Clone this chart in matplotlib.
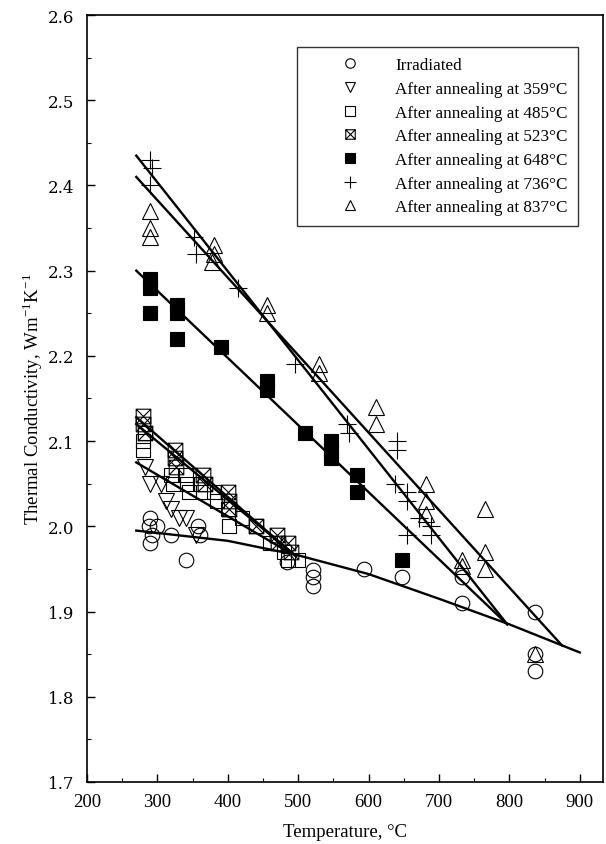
import numpy as np
import matplotlib
matplotlib.use("Agg")
import matplotlib.pyplot as plt
from matplotlib.path import Path
from matplotlib.lines import Line2D

plt.rcParams['font.family'] = ['Liberation Serif', 'DejaVu Serif']
plt.rcParams['mathtext.fontset'] = 'stix'

# --- data ---
irr_x = [288, 290, 292, 290, 300, 320, 340, 358, 360, 484, 521, 521, 521, 593, 647, 733, 733, 837, 837, 837]
irr_y = [2.00, 2.01, 1.99, 1.98, 2.00, 1.99, 1.96, 2.00, 1.99, 1.958, 1.949, 1.94, 1.93, 1.95, 1.94, 1.94, 1.91, 1.90, 1.85, 1.83]

a359_x = [283, 290, 305, 312, 320, 330, 340, 355]
a359_y = [2.07, 2.05, 2.05, 2.03, 2.02, 2.01, 2.01, 1.99]

a485_x = [280, 280, 282, 320, 322, 340, 342, 345, 360, 365, 380, 385, 400, 402, 420, 440, 460, 480, 485, 500]
a485_y = [2.10, 2.09, 2.11, 2.06, 2.05, 2.06, 2.05, 2.04, 2.05, 2.04, 2.04, 2.03, 2.02, 2.00, 2.01, 2.00, 1.98, 1.97, 1.96, 1.96]

a523_x = [280, 280, 282, 325, 325, 327, 365, 367, 400, 402, 402, 440, 470, 472, 485, 490]
a523_y = [2.13, 2.12, 2.11, 2.09, 2.08, 2.07, 2.06, 2.05, 2.04, 2.03, 2.02, 2.00, 1.99, 1.98, 1.98, 1.97]

a648_x = [290, 290, 290, 328, 328, 328, 390, 455, 455, 510, 547, 547, 547, 584, 584, 647]
a648_y = [2.29, 2.28, 2.25, 2.26, 2.25, 2.22, 2.21, 2.17, 2.16, 2.11, 2.10, 2.09, 2.08, 2.06, 2.04, 1.96]

a736_x = [290, 292, 290, 352, 355, 415, 495, 570, 572, 640, 640, 637, 655, 655, 672, 689, 689, 655]
a736_y = [2.43, 2.42, 2.40, 2.34, 2.32, 2.28, 2.19, 2.12, 2.11, 2.10, 2.09, 2.05, 2.04, 2.03, 2.01, 2.00, 1.99, 1.99]

a837_x = [290, 290, 290, 380, 380, 378, 455, 455, 530, 530, 611, 611, 682, 682, 682, 732, 732, 765, 765, 765, 837]
a837_y = [2.37, 2.35, 2.34, 2.33, 2.32, 2.31, 2.26, 2.25, 2.19, 2.18, 2.14, 2.12, 2.05, 2.03, 2.015, 1.96, 1.953, 2.02, 1.97, 1.95, 1.85]

labels = ['Irradiated', 'After annealing at 359°C', 'After annealing at 485°C',
          'After annealing at 523°C', 'After annealing at 648°C',
          'After annealing at 736°C', 'After annealing at 837°C']

# fitted lines (end points)
fit_irr_x = [270, 400, 500, 600, 700, 800, 900]
fit_irr_y = [1.995, 1.983, 1.966, 1.944, 1.915, 1.885, 1.852]
fit_lines = [
    ([270, 490], [2.075, 1.968]),   # 359
    ([270, 497], [2.12, 1.965]),    # 485
    ([270, 495], [2.128, 1.966]),   # 523
    ([270, 797], [2.30, 1.885]),    # 648
    ([270, 797], [2.435, 1.885]),   # 736
    ([270, 875], [2.41, 1.86]),     # 837
]

# square with an X inside
xsq = Path([(-1, -1), (1, -1), (1, 1), (-1, 1), (-1, -1), (1, 1), (-1, 1), (1, -1)],
           [Path.MOVETO, Path.LINETO, Path.LINETO, Path.LINETO, Path.LINETO,
            Path.LINETO, Path.MOVETO, Path.LINETO])

fig = plt.figure(figsize=(6.06, 8.45), dpi=100)
ax = fig.add_axes([87 / 606, 62 / 845, (603 - 87) / 606, (829 - 62) / 845])

mew = 0.8
styles = [
    dict(marker='o', ms=10.5, mfc='none'),
    dict(marker='v', ms=11, mfc='none'),
    dict(marker='s', ms=10.5, mfc='none'),
    dict(marker=xsq, ms=10.5, mfc='none'),
    dict(marker='s', ms=10.5, mfc='black'),
    dict(marker='+', ms=13, mfc='none'),
    dict(marker='^', ms=11, mfc='none'),
]
series = [(irr_x, irr_y), (a359_x, a359_y), (a485_x, a485_y), (a523_x, a523_y),
          (a648_x, a648_y), (a736_x, a736_y), (a837_x, a837_y)]

handles = []
for (xs, ys), st, lab in zip(series, styles, labels):
    ax.plot(xs, ys, ls='none', mec='black', mew=mew, color='black', **st)
    handles.append(Line2D([], [], ls='none', mec='black', mew=mew, color='black',
                          label=lab, **st))

ax.plot(fit_irr_x, fit_irr_y, color='black', lw=1.7)
for fx, fy in fit_lines:
    ax.plot(fx, fy, color='black', lw=1.7)

ax.set_xlim(200, 933)
ax.set_ylim(1.7, 2.6)
ax.set_xticks(np.arange(200, 901, 100))
ax.set_xticks(np.arange(250, 930, 100), minor=True)
ax.set_yticks(np.arange(1.7, 2.61, 0.1))
ax.set_yticks(np.arange(1.75, 2.6, 0.1), minor=True)
ax.set_yticklabels(['%.1f' % v for v in np.arange(1.7, 2.61, 0.1)],
                   family='DejaVu Serif', fontsize=12)
ax.tick_params(which='both', direction='in', top=False, right=False)
ax.tick_params(axis='x', labelsize=13.5, pad=8)
ax.tick_params(axis='y', pad=9)
ax.tick_params(which='major', length=6, width=1)
ax.tick_params(which='minor', length=3, width=0.8)
for s in ax.spines.values():
    s.set_linewidth(1.2)

ax.set_xlabel('Temperature, °C', fontsize=13.5, labelpad=9)
ax.set_ylabel('Thermal Conductivity, Wm$^{\\mathregular{-1}}$K$^{\\mathregular{-1}}$',
              fontsize=13.5, labelpad=2)

leg = ax.legend(handles=handles, loc='upper left', bbox_to_anchor=(297 / 606, 1 - 48 / 845),
                bbox_transform=fig.transFigure, fontsize=12.3, frameon=True, fancybox=False,
                edgecolor='black', borderaxespad=0, borderpad=0.6, handlelength=5.0,
                handletextpad=0.15, labelspacing=0.45, markerscale=0.65)
leg.get_frame().set_linewidth(1.0)

fig.savefig('out.png', dpi=100)
